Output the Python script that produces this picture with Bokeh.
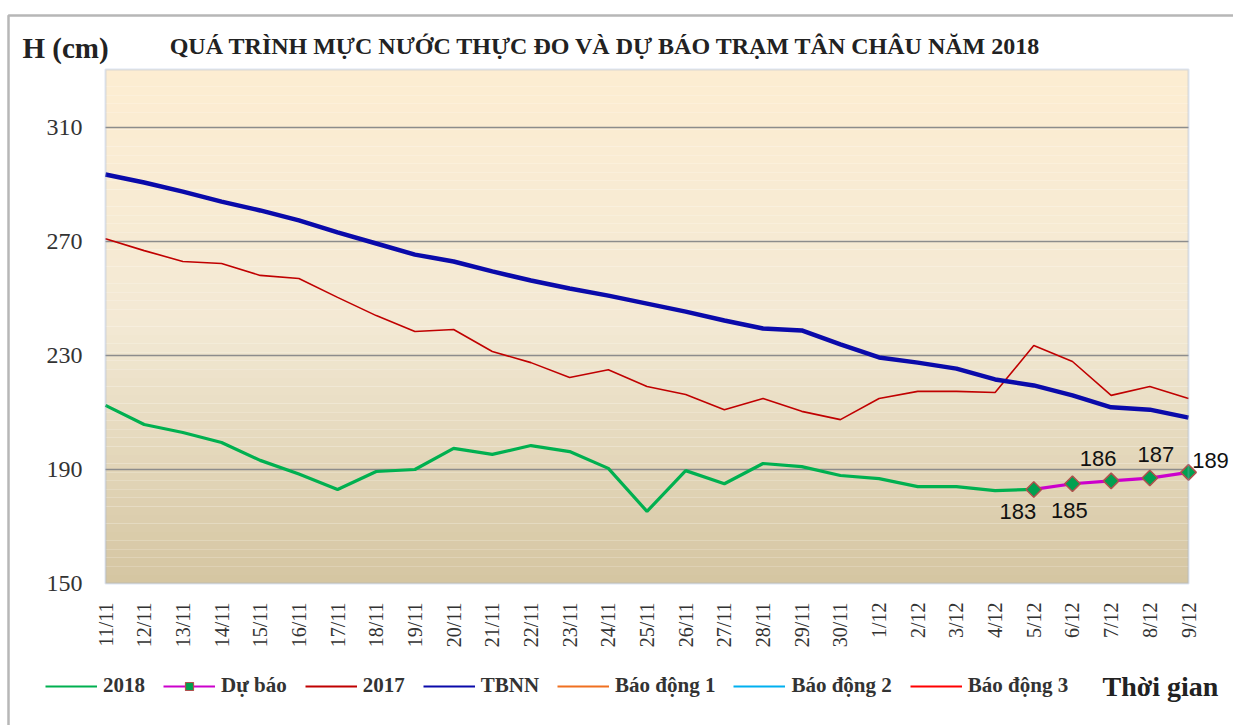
import numpy as np
from bokeh.plotting import figure
from bokeh.models import (Range1d, FixedTicker, Label, Legend, LegendItem,
                          BoxAnnotation, ColumnDataSource)
from bokeh.core.properties import value
from bokeh.embed import file_html
from bokeh.resources import INLINE

# ---------------- data ----------------
dates = ["11/11", "12/11", "13/11", "14/11", "15/11", "16/11", "17/11", "18/11",
         "19/11", "20/11", "21/11", "22/11", "23/11", "24/11", "25/11", "26/11",
         "27/11", "28/11", "29/11", "30/11", "1/12", "2/12", "3/12", "4/12",
         "5/12", "6/12", "7/12", "8/12", "9/12"]

h2018 = [212.5, 205.8, 203.0, 199.5, 193.2, 188.4, 183.0, 189.3, 190.0, 197.4,
         195.3, 198.4, 196.3, 190.4, 175.3, 189.6, 185.0, 192.1, 191.0, 187.9,
         186.8, 184.0, 184.0, 182.6, 183.0]

forecast_dates = ["5/12", "6/12", "7/12", "8/12", "9/12"]
forecast = [183, 185, 186, 187, 189]

h2017 = [271.0, 266.8, 263.0, 262.3, 258.1, 257.0, 250.4, 244.0, 238.4, 239.1,
         231.4, 227.5, 222.3, 225.0, 219.1, 216.3, 211.0, 214.9, 210.4, 207.5,
         214.9, 217.4, 217.4, 217.0, 233.5, 227.9, 216.0, 219.1, 214.9]

tbnn = [293.5, 290.7, 287.5, 284.0, 280.9, 277.4, 273.2, 269.3, 265.4, 263.0,
        259.5, 256.3, 253.5, 251.0, 248.2, 245.4, 242.3, 239.5, 238.8, 233.9,
        229.3, 227.5, 225.4, 221.6, 219.5, 216.0, 211.8, 211.0, 208.2]

y_ticks = [150, 190, 230, 270, 310]
y_min, y_max = 150, 330.35

# ---------------- geometry of the page ----------------
W, H = 1233, 725
PA_L, PA_R, PA_T, PA_B = 105, 1188, 69, 583          # plot-area pixels
n = len(dates) - 1
ux = (PA_R - PA_L) / n                                 # px per x unit
uy = (PA_B - PA_T) / (y_max - y_min)                   # px per y unit
x_lo = -PA_L / ux
x_hi = (W - PA_L) / ux
y_lo = y_min - (H - PA_B) / uy
y_hi = y_max + PA_T / uy

x_all = list(range(len(dates)))
x_2018 = x_all[:len(h2018)]
x_fc = [dates.index(d) for d in forecast_dates]

p = figure(width=W, height=H, output_backend="svg", toolbar_location=None,
           x_range=Range1d(x_lo, x_hi), y_range=Range1d(y_lo, y_hi),
           min_border=0)
p.background_fill_color = "white"
p.border_fill_color = "white"
p.outline_line_color = None
p.xgrid.visible = False
p.ygrid.visible = False

# vertical gradient background of the plot area
top_c = np.array([253, 237, 210])
mid_c = np.array([243, 233, 212])
bot_c = np.array([212, 197, 161])
nb = 60
for i in range(nb):
    b = y_min + (y_max - y_min) * i / nb
    t = y_min + (y_max - y_min) * (i + 1) / nb
    f = (i + 0.5) / nb
    if f < 0.5:
        c = bot_c + (mid_c - bot_c) * (f / 0.5)
    else:
        c = mid_c + (top_c - mid_c) * ((f - 0.5) / 0.5)
    col = "#%02x%02x%02x" % tuple(int(round(v)) for v in c)
    p.add_layout(BoxAnnotation(left=0, right=n, bottom=b, top=t, fill_color=col,
                               fill_alpha=1, line_alpha=0, level="underlay"))

# horizontal grid lines inside plot area
gh = 0.65 / uy
for yt in y_ticks[1:]:
    p.add_layout(BoxAnnotation(left=0, right=n, bottom=yt - gh, top=yt + gh,
                               fill_color="#8C8C8C", fill_alpha=1, line_alpha=0,
                               level="underlay"))

# plot-area outline
p.add_layout(BoxAnnotation(left=0, right=n, bottom=y_min, top=y_max,
                           fill_alpha=0, line_color="#8DA9D6", line_width=2,
                           level="overlay"))

# outer chart frame (left & top black lines)
p.add_layout(BoxAnnotation(left=(8 - PA_L) / ux, right=x_hi + 5,
                           top=y_max + (PA_T - 15) / uy, bottom=y_lo - 5,
                           fill_alpha=0, line_color="#111111", line_width=2.5,
                           level="overlay"))

# axes pinned to the plot-area edges
p.yaxis.fixed_location = 0
p.yaxis.ticker = FixedTicker(ticks=y_ticks)
p.yaxis.major_tick_out = 0
p.yaxis.major_tick_in = 0
p.yaxis.minor_tick_line_color = None
p.yaxis.axis_line_color = None
p.yaxis.major_label_standoff = 23
p.yaxis.major_label_text_font = "Liberation Serif"
p.yaxis.major_label_text_font_size = "24px"
p.yaxis.major_label_text_color = "#333333"

p.xaxis.fixed_location = y_min
p.xaxis.ticker = FixedTicker(ticks=x_all)
p.xaxis.major_label_overrides = {i: d for i, d in enumerate(dates)}
p.xaxis.major_label_orientation = np.pi / 2
p.xaxis.major_tick_out = 0
p.xaxis.major_tick_in = 0
p.xaxis.minor_tick_line_color = None
p.xaxis.axis_line_color = None
p.xaxis.major_label_standoff = 19
p.xaxis.major_label_text_font = "Liberation Serif"
p.xaxis.major_label_text_font_size = "20px"
p.xaxis.major_label_text_color = "#333333"

# series
C2018, CFC, C2017, CTBNN = "#00B050", "#CC00CC", "#C00000", "#0A0AAA"
p.line(x_all, h2017, line_color=C2017, line_width=1.6)
p.line(x_all, tbnn, line_color=CTBNN, line_width=4.5)
p.line(x_2018, h2018, line_color=C2018, line_width=3.2)
p.line(x_fc, forecast, line_color=CFC, line_width=3.2)
p.scatter(x_fc, forecast, marker="square", angle=np.pi / 4, size=11,
          fill_color="#00A050", line_color="#B0504D", line_width=1.5)

# forecast value labels
lbl_dx = [-16, -3, -13, 6, 22]
lbl_dy = [22, 27, -22, -24, -12]
src = ColumnDataSource(dict(x=x_fc, y=forecast, t=[str(v) for v in forecast],
                            dx=lbl_dx, dy=lbl_dy))
p.text(x="x", y="y", text="t", x_offset="dx", y_offset="dy", source=src,
       text_font=value("Liberation Sans"), text_font_size="22px",
       text_color="#111111", text_align="center", text_baseline="middle")

# legend-only glyphs (thin lines as in the reference legend)
nan2 = [np.nan, np.nan]
lg2018 = p.line([0, 1], nan2, line_color=C2018, line_width=2)
lgfc = p.line([0, 1], nan2, line_color=CFC, line_width=2)
lgfcm = p.scatter([0, 1], nan2, marker="square", angle=np.pi / 4, size=9,
                  fill_color="#00A050", line_color="#B0504D", line_width=1.2)
lg2017 = p.line([0, 1], nan2, line_color=C2017, line_width=2)
lgtbnn = p.line([0, 1], nan2, line_color=CTBNN, line_width=2)
rbd1 = p.line([0, 1], nan2, line_color="#F07020", line_width=2)
rbd2 = p.line([0, 1], nan2, line_color="#00B0F0", line_width=2)
rbd3 = p.line([0, 1], nan2, line_color="#FF0000", line_width=2)

legend = Legend(items=[
    LegendItem(label="2018", renderers=[lg2018]),
    LegendItem(label="Dự báo", renderers=[lgfc, lgfcm]),
    LegendItem(label="2017", renderers=[lg2017]),
    LegendItem(label="TBNN", renderers=[lgtbnn]),
    LegendItem(label="Báo động 1", renderers=[rbd1]),
    LegendItem(label="Báo động 2", renderers=[rbd2]),
    LegendItem(label="Báo động 3", renderers=[rbd3]),
], orientation="horizontal", location=(45, H - 698))
legend.background_fill_alpha = 0
legend.border_line_color = None
legend.padding = 0
legend.margin = 0
legend.spacing = 18
legend.glyph_width = 52
legend.glyph_height = 20
legend.label_standoff = 6
legend.label_height = 20
legend.label_text_font = "Liberation Serif"
legend.label_text_font_style = "bold"
legend.label_text_font_size = "21px"
legend.label_text_color = "#333333"
p.add_layout(legend, "center")

# text annotations (screen px from bottom-left of the canvas)
p.add_layout(Label(x=22, y=H - 47, x_units="screen", y_units="screen", text="H (cm)",
                   text_font="Liberation Serif", text_font_style="bold",
                   text_font_size="29px", text_color="#222222",
                   text_align="left", text_baseline="middle"))
p.add_layout(Label(x=605, y=H - 45, x_units="screen", y_units="screen",
                   text="QUÁ TRÌNH MỰC NƯỚC THỰC ĐO VÀ DỰ BÁO TRẠM TÂN CHÂU NĂM 2018",
                   text_font="Liberation Serif", text_font_style="bold",
                   text_font_size="24px", text_color="#222222",
                   text_align="center", text_baseline="middle"))
p.add_layout(Label(x=1102, y=H - 686, x_units="screen", y_units="screen",
                   text="Thời gian",
                   text_font="Liberation Serif", text_font_style="bold",
                   text_font_size="28px", text_color="#222222",
                   text_align="left", text_baseline="middle"))

open("out.html", "w").write(file_html(p, INLINE))
